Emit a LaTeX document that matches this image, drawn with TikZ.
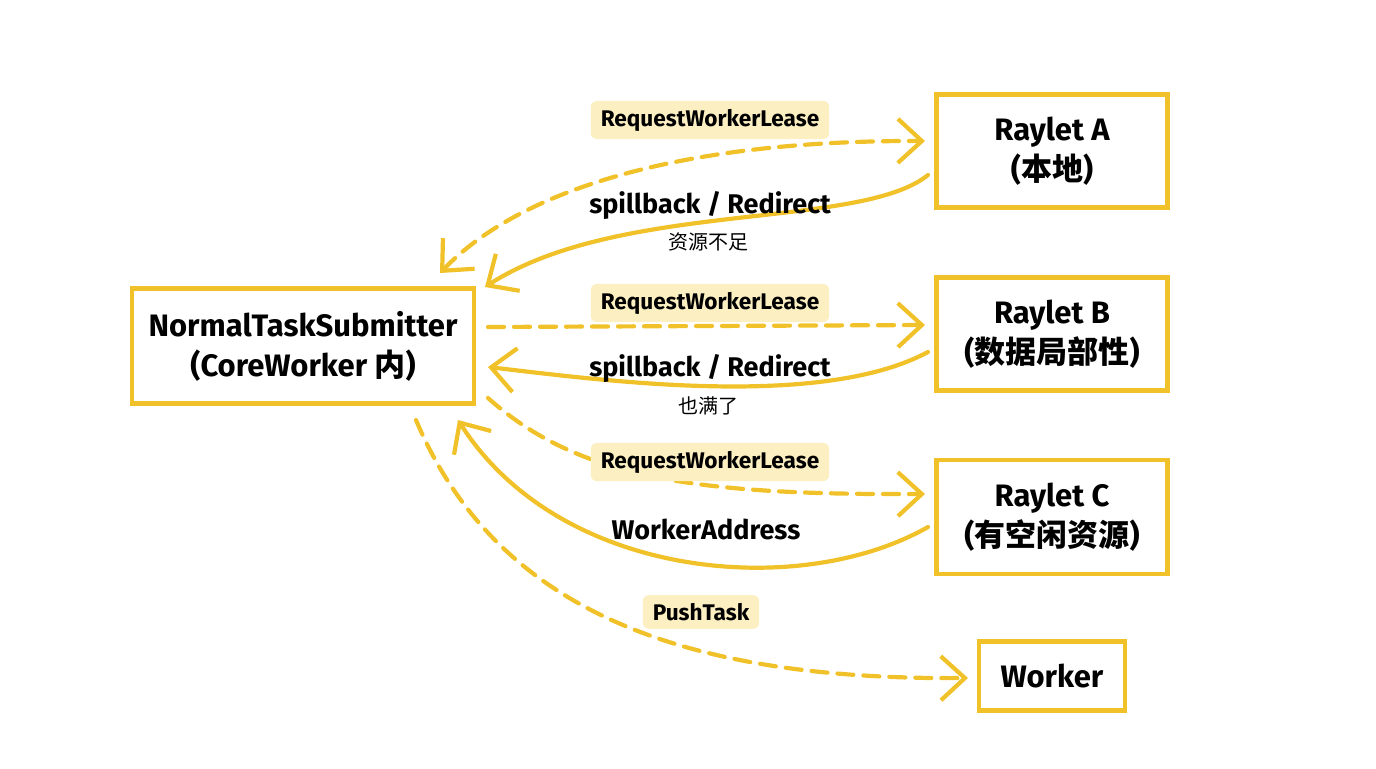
\documentclass[tikz,border=0pt]{standalone}
\usepackage{fontspec}
\setmainfont{Fira Sans}
\newfontfamily\cjk{Noto Sans CJK SC}
\usetikzlibrary{arrows.meta}
\definecolor{ylw}{HTML}{F0C128}
\definecolor{hl}{HTML}{FCEFC2}
\tikzset{
  box/.style={draw=ylw,line width=2.1pt,fill=white,align=center,font=\fontsize{15.5}{20}\selectfont\bfseries,inner sep=0pt},
  conn/.style={draw=ylw,line width=2.1pt,line cap=round,-{Straight Barb[length=12pt,width=22pt,line width=2.1pt]}},
  dconn/.style={conn,dash pattern=on 8pt off 5pt},
  tag/.style={fill=hl,rounded corners=3pt,font=\fontsize{11.3}{13}\selectfont\bfseries,inner xsep=5pt,inner ysep=4pt},
  lbl/.style={font=\fontsize{13.5}{15}\selectfont\bfseries,inner sep=1pt},
  sub/.style={font=\cjk\fontsize{10}{11}\selectfont,inner sep=1pt}
}
\begin{document}
\begin{tikzpicture}[x=0.5pt,y=-0.5pt]
\useasboundingbox (0,0) rectangle (1376,768);
\node[box,minimum width=171pt,minimum height=57.5pt] (nts) at (303,346) {NormalTaskSubmitter\\({CoreWorker} {\cjk 内})};
\node[box,minimum width=115.5pt,minimum height=56.5pt] (ra) at (1052,151) {Raylet A\\({\cjk 本地})};
\node[box,minimum width=115.5pt,minimum height=56.5pt] (rb) at (1052,334) {Raylet B\\({\cjk 数据局部性})};
\node[box,minimum width=115.5pt,minimum height=57pt] (rc) at (1052,517) {Raylet C\\({\cjk 有空闲资源})};
\node[box,minimum width=73pt,minimum height=34.5pt] (wk) at (1052,676) {Worker};

\coordinate (a1) at (440,273);
\coordinate (a2) at (925,141);
\coordinate (a3) at (928,175);
\coordinate (a4) at (485,287);
\coordinate (b1) at (488,327);
\coordinate (b2) at (925,325);
\coordinate (b3) at (928,352);
\coordinate (b4) at (488,367);
\coordinate (c1) at (488,398);
\coordinate (c2) at (925,494);
\coordinate (c3) at (928,527);
\coordinate (c4) at (458,420);
\coordinate (w1) at (416,420);
\coordinate (w2) at (968,678);

% Raylet A
\draw[dconn,{Straight Barb[length=12pt,width=22pt,line width=2.1pt]}-{Straight Barb[length=12pt,width=22pt,line width=2.1pt]}] (a1) .. controls (520,190) and (680,140) .. (a2);
\draw[conn] (a3) .. controls (860,230) and (620,200) .. (a4);
\node[tag] (t1) at (710,120) {RequestWorkerLease};
\node[lbl] (s1) at (710,205) {spillback / Redirect};
\node[sub] (z1) at (708,242) {资源不足};

% Raylet B
\draw[dconn] (b1) -- (b2);
\draw[conn] (b3) .. controls (820,410) and (600,380) .. (b4);
\node[tag] (t2) at (710,303) {RequestWorkerLease};
\node[lbl] (s2) at (710,368) {spillback / Redirect};
\node[sub] (z2) at (708,406) {也满了};

% Raylet C
\draw[dconn] (c1) .. controls (580,480) and (700,495) .. (c2);
\draw[conn] (c3) .. controls (800,600) and (560,580) .. (c4);
\node[tag] (t3) at (710,462) {RequestWorkerLease};
\node[lbl] (s3) at (706,529) {WorkerAddress};

% Worker
\draw[dconn] (w1) .. controls (500,620) and (700,680) .. (w2);
\node[tag] (t4) at (701,612) {PushTask};
\end{tikzpicture}
\end{document}
